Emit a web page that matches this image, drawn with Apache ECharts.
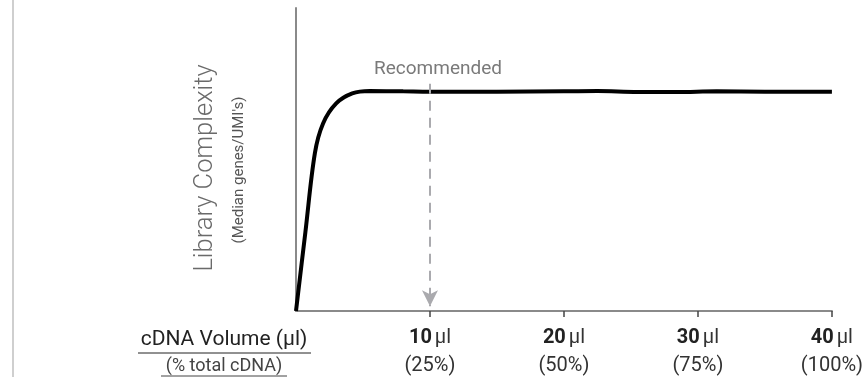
<!DOCTYPE html>
<html>
<head>
<meta charset="utf-8">
<script src="https://cdn.jsdelivr.net/npm/echarts@6/dist/echarts.min.js"></script>
<style>html,body{margin:0;padding:0;background:#fff}#c{width:866px;height:377px}</style>
</head>
<body>
<div id="c"></div>
<script>
// Data
const volumeX = [0, 0.7, 1.41, 2.02, 3.0, 4.2, 5.5, 8, 10, 15, 20, 22.5, 25.5, 28.4, 31.4, 35, 40];
const complexityY = [0, 26, 52.1, 61.9, 68.5, 71.8, 72.6, 72.5, 72.4, 72.4, 72.5, 72.6, 72.3, 72.3, 72.5, 72.4, 72.4];
const tickValues = [10, 20, 30, 40];
const tickVolumes = ['10', '20', '30', '40'];
const tickPercents = ['(25%)', '(50%)', '(75%)', '(100%)'];
const recommendedX = 10;
const recommendedTop = 75;
const recommendedBottom = 1.6;

const FONT = 'Roboto, "DejaVu Sans", sans-serif';
const chart = echarts.init(document.getElementById('c'), null, {renderer: 'canvas'});
const seriesData = volumeX.map((x, i) => [x, complexityY[i]]);

chart.setOption({
  animation: false,
  grid: {left: 296, right: 28, top: 8, bottom: 66},
  xAxis: {
    type: 'value', min: 0, max: 40, interval: 10,
    axisLine: {lineStyle: {color: '#8a8a8a', width: 2}},
    axisTick: {show: true, customValues: tickValues, length: 6, lineStyle: {color: '#444', width: 1.5}},
    splitLine: {show: false},
    axisLabel: {
      customValues: tickValues,
      margin: 13,
      fontFamily: FONT,
      formatter: function (v) {
        const i = tickValues.indexOf(v);
        if (i < 0) return '';
        return '{b|' + tickVolumes[i] + '} {r|µl}\n{p|' + tickPercents[i] + '}';
      },
      rich: {
        b: {fontFamily: FONT, fontSize: 20, fontWeight: 'bold', color: '#222', lineHeight: 28},
        r: {fontFamily: FONT, fontSize: 20, color: '#333', lineHeight: 28},
        p: {fontFamily: FONT, fontSize: 20, color: '#333', lineHeight: 28}
      }
    }
  },
  yAxis: {
    type: 'value', min: 0, max: 100,
    axisLine: {show: true, lineStyle: {color: '#8a8a8a', width: 2}},
    axisTick: {show: false}, axisLabel: {show: false}, splitLine: {show: false}
  },
  series: [{
    type: 'line',
    data: seriesData,
    smooth: 0.35,
    symbol: 'none',
    lineStyle: {color: '#000', width: 4},
    markLine: {
      silent: true,
      symbol: ['none', 'arrow'],
      symbolSize: [12, 16],
      lineStyle: {color: '#aaaaae', width: 2, type: [10, 7]},
      label: {show: true, position: 'start', formatter: 'Recommended', color: '#7a7a7a', fontSize: 19, fontFamily: FONT, distance: 5, padding: [0, 0, 0, 16]},
      data: [[{coord: [recommendedX, recommendedTop]}, {coord: [recommendedX, recommendedBottom]}]]
    }
  }],
  graphic: [
    {type: 'rect', shape: {x: 12, y: 0, width: 2, height: 377}, style: {fill: '#cfcfcf'}},
    {type: 'text', x: 206, y: 168, rotation: Math.PI / 2,
      style: {text: 'Library Complexity', fill: '#6a6a6a', font: '300 25.5px ' + FONT, align: 'center', verticalAlign: 'middle'}},
    {type: 'text', x: 239, y: 170, rotation: Math.PI / 2,
      style: {text: "(Median genes/UMI's)", fill: '#555', font: '15px ' + FONT, align: 'center', verticalAlign: 'middle'}},
    {type: 'text', x: 224, y: 340,
      style: {text: 'cDNA Volume (µl)', fill: '#222', font: '21px ' + FONT, align: 'center', verticalAlign: 'middle'}},
    {type: 'line', shape: {x1: 138, y1: 353, x2: 311, y2: 353}, style: {stroke: '#222', lineWidth: 1}},
    {type: 'text', x: 224, y: 366,
      style: {text: '(% total cDNA)', fill: '#444', font: '18px ' + FONT, align: 'center', verticalAlign: 'middle'}},
    {type: 'line', shape: {x1: 161, y1: 376, x2: 287, y2: 376}, style: {stroke: '#444', lineWidth: 1}}
  ]
});
</script>
</body>
</html>
